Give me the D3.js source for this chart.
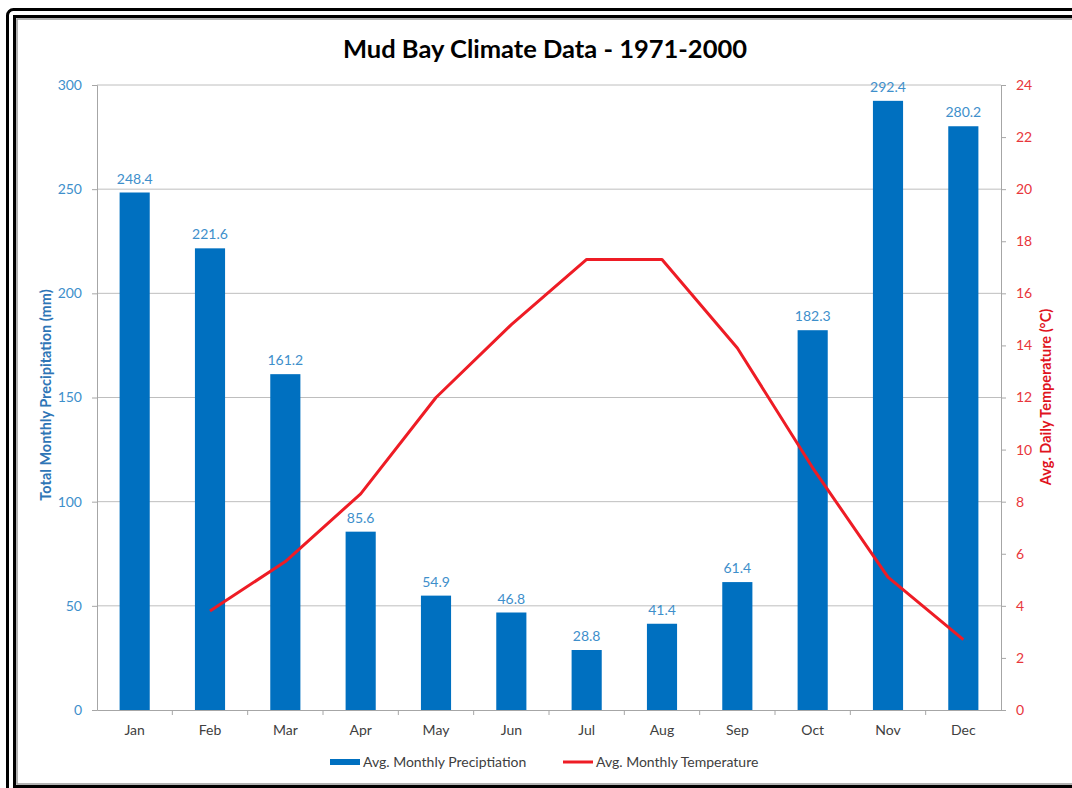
<!DOCTYPE html>
<html>
<head>
<meta charset="utf-8">
<script src="https://cdn.jsdelivr.net/npm/d3@7"></script>
<style>
  body { margin: 0; background: #fff; }
  svg text { font-family: Lato, "Open Sans", sans-serif; }
</style>
</head>
<body>
<div id="chart"></div>
<script>
const months = ["Jan","Feb","Mar","Apr","May","Jun","Jul","Aug","Sep","Oct","Nov","Dec"];
const precipitation = [248.4, 221.6, 161.2, 85.6, 54.9, 46.8, 28.8, 41.4, 61.4, 182.3, 292.4, 280.2];
const temperature = [null, 3.8, 5.7, 8.3, 12.0, 14.8, 17.3, 17.3, 13.9, 9.3, 5.1, 2.7];
const precipTicks = [0, 50, 100, 150, 200, 250, 300];
const tempTicks = [0, 2, 4, 6, 8, 10, 12, 14, 16, 18, 20, 22, 24];

const W = 1072, H = 788;
const margin = {top: 85, right: 71, bottom: 78, left: 97};
const width = W - margin.left - margin.right,
      height = H - margin.top - margin.bottom;

const blue = "#0070C0", red = "#EE1C25";
const blueText = "#3E8FCB", redText = "#E8363B";

const root = d3.select("#chart").append("svg")
    .attr("width", W)
    .attr("height", H);

// frame
root.append("rect")
    .attr("x", 7.5).attr("y", 9.5)
    .attr("width", 1100).attr("height", 800)
    .attr("rx", 6)
    .attr("fill", "none").attr("stroke", "#000").attr("stroke-width", 3);
root.append("rect")
    .attr("x", 14.5).attr("y", 16.5)
    .attr("width", 1100).attr("height", 770)
    .attr("fill", "none").attr("stroke", "#000").attr("stroke-width", 3);
root.append("rect")
    .attr("x", 17).attr("y", 19)
    .attr("width", 1100).attr("height", 765)
    .attr("fill", "none").attr("stroke", "#9a9a9a").attr("stroke-width", 1.5);

root.append("text")
    .attr("x", 545).attr("y", 58)
    .attr("text-anchor", "middle")
    .style("font-size", "25.5px").style("font-weight", "bold")
    .attr("fill", "#000")
    .text("Mud Bay Climate Data - 1971-2000");

const svg = root.append("g")
    .attr("transform", `translate(${margin.left},${margin.top})`);

const x = d3.scaleBand()
    .domain(months)
    .range([0, width])
    .paddingInner(0.6)
    .paddingOuter(0.3);

const xBand = d3.scaleBand()
    .domain(months)
    .range([0, width]);

const y = d3.scaleLinear().domain([0, 300]).range([height, 0]);
const y2 = d3.scaleLinear().domain([0, 24]).range([height, 0]);

// gridlines
svg.append("g")
    .selectAll("line")
    .data(precipTicks.filter(d => d > 0))
    .enter().append("line")
    .attr("x1", 0).attr("x2", width)
    .attr("y1", d => y(d)).attr("y2", d => y(d))
    .attr("stroke", "#BEBEBE").attr("stroke-width", 1);

// bars
svg.append("g")
    .selectAll("rect")
    .data(precipitation)
    .enter().append("rect")
    .attr("x", (d, i) => x(months[i]))
    .attr("y", d => y(d))
    .attr("width", x.bandwidth())
    .attr("height", d => height - y(d))
    .attr("fill", blue);

// bar labels
svg.append("g")
    .selectAll("text")
    .data(precipitation)
    .enter().append("text")
    .attr("x", (d, i) => x(months[i]) + x.bandwidth() / 2)
    .attr("y", d => y(d) - 9)
    .attr("text-anchor", "middle")
    .style("font-size", "14px")
    .attr("fill", blueText)
    .text(d => d.toFixed(1));

// temperature line
const line = d3.line()
    .defined(d => d != null)
    .x((d, i) => xBand(months[i]) + xBand.bandwidth() / 2)
    .y(d => y2(d));

svg.append("path")
    .datum(temperature)
    .attr("d", line)
    .attr("fill", "none")
    .attr("stroke", red)
    .attr("stroke-width", 3)
    .attr("stroke-linejoin", "round");

// axes
const yAxis = svg.append("g")
    .call(d3.axisLeft(y).tickValues(precipTicks).tickSize(5).tickPadding(10));
yAxis.select(".domain").attr("stroke", "#A6A6A6");
yAxis.selectAll(".tick line").attr("stroke", "#A6A6A6");
yAxis.selectAll("text").attr("fill", blueText).style("font-size", "14px");

const y2Axis = svg.append("g")
    .attr("transform", `translate(${width},0)`)
    .call(d3.axisRight(y2).tickValues(tempTicks).tickSize(5).tickPadding(10));
y2Axis.select(".domain").attr("stroke", "#A6A6A6");
y2Axis.selectAll(".tick line").attr("stroke", "#A6A6A6");
y2Axis.selectAll("text").attr("fill", redText).style("font-size", "14px");

const xAxis = svg.append("g")
    .attr("transform", `translate(0,${height})`)
    .call(d3.axisBottom(xBand).tickSize(0).tickPadding(15));
xAxis.select(".domain").attr("stroke", "#A6A6A6");
xAxis.selectAll("text").attr("fill", "#404040").style("font-size", "14px");

// category separator ticks
svg.append("g")
    .selectAll("line")
    .data(months.slice(1))
    .enter().append("line")
    .attr("x1", d => xBand(d)).attr("x2", d => xBand(d))
    .attr("y1", height).attr("y2", height + 5)
    .attr("stroke", "#A6A6A6");

// axis titles
root.append("text")
    .attr("transform", "translate(51,395) rotate(-90)")
    .attr("text-anchor", "middle")
    .style("font-size", "14.5px").style("font-weight", "bold")
    .attr("fill", "#2E75B6")
    .text("Total Monthly Precipitation (mm)");

root.append("text")
    .attr("transform", "translate(1051,397) rotate(-90)")
    .attr("text-anchor", "middle")
    .style("font-size", "14.5px").style("font-weight", "bold")
    .attr("fill", "#E0141E")
    .text("Avg. Daily Temperature (°C)");

// legend
const legend = root.append("g").attr("transform", "translate(330,762)");
legend.append("rect")
    .attr("x", 0).attr("y", -3)
    .attr("width", 30).attr("height", 6)
    .attr("fill", blue);
legend.append("text")
    .attr("x", 33).attr("y", 5)
    .style("font-size", "14px")
    .attr("fill", "#404040")
    .text("Avg. Monthly Preciptiation");
legend.append("line")
    .attr("x1", 233).attr("x2", 263)
    .attr("y1", 0).attr("y2", 0)
    .attr("stroke", red).attr("stroke-width", 3);
legend.append("text")
    .attr("x", 266).attr("y", 5)
    .style("font-size", "14px")
    .attr("fill", "#404040")
    .text("Avg. Monthly Temperature");
</script>
</body>
</html>
